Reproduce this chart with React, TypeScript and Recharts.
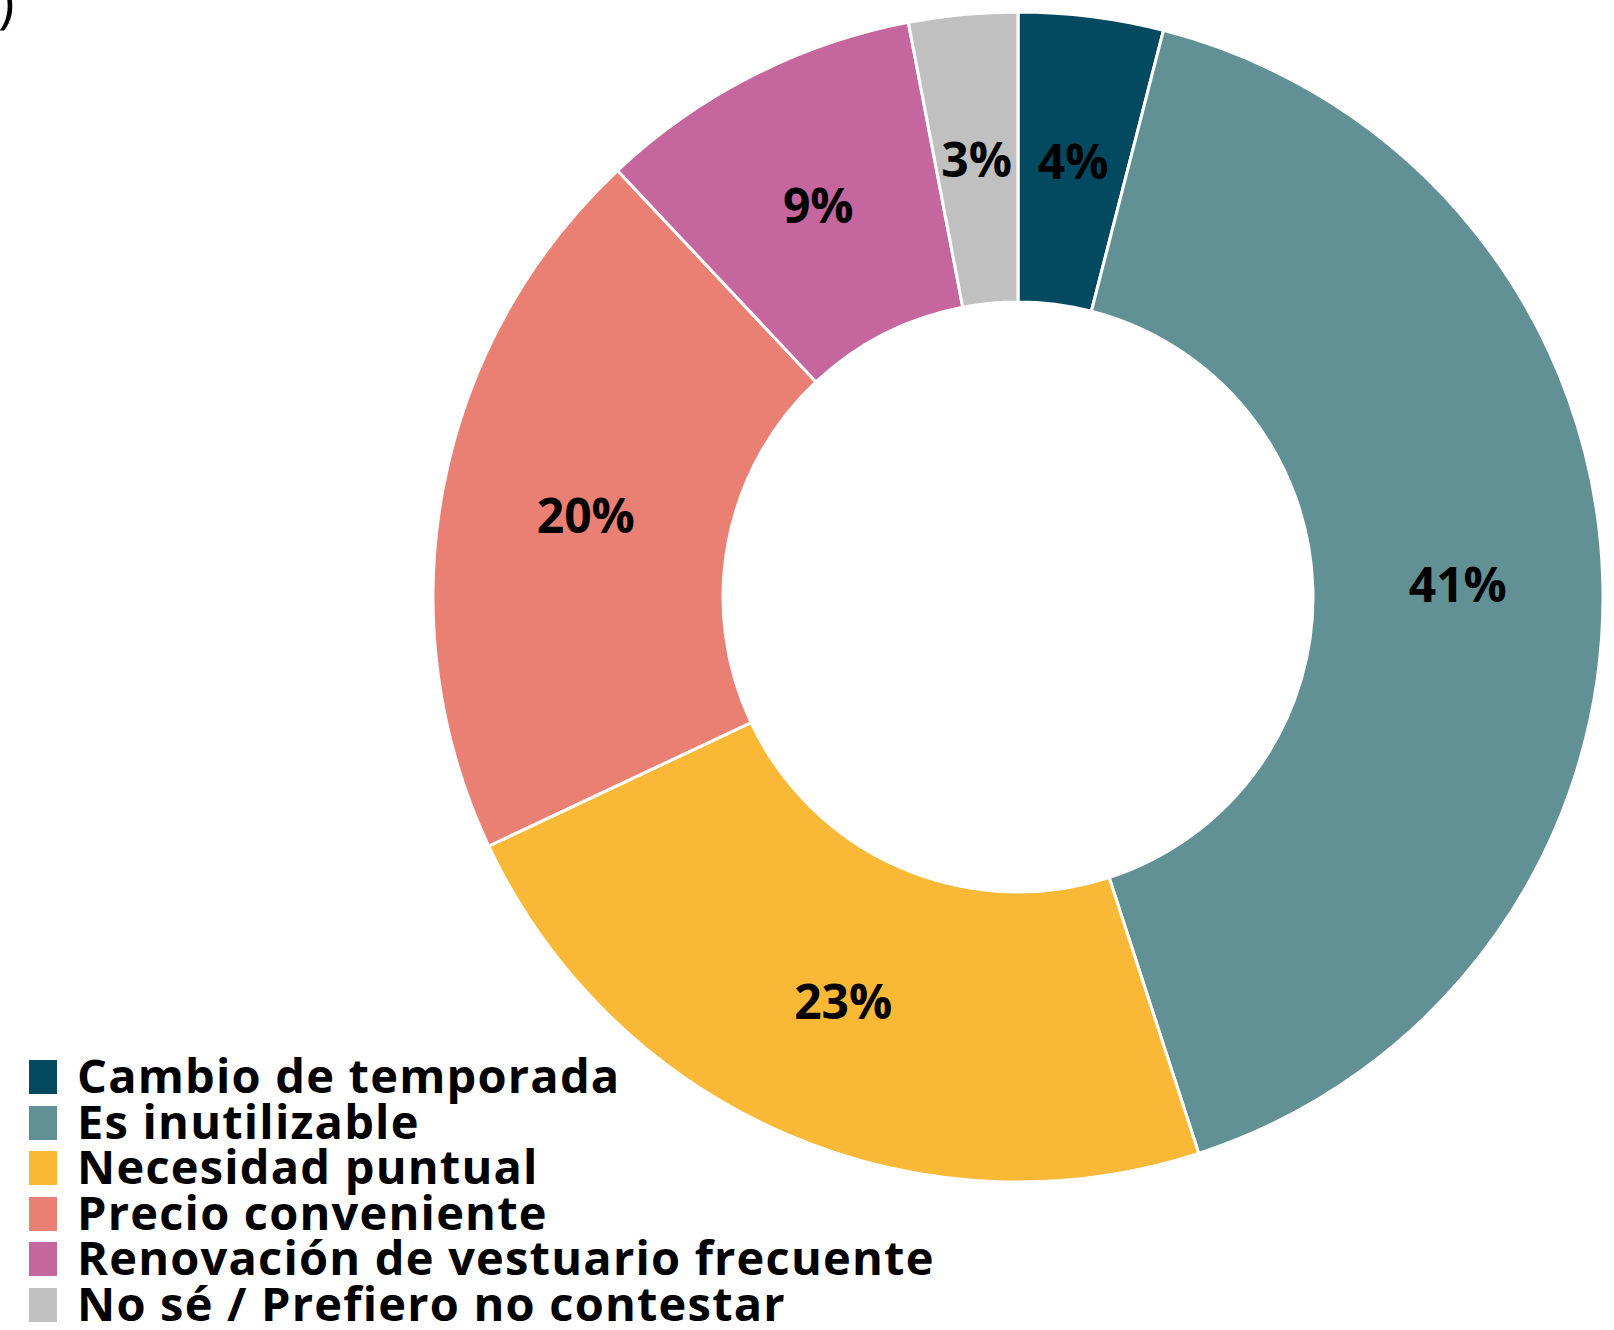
import React from "react";
import { PieChart, Pie, Cell, Legend } from "recharts";

const categories = [
  "Cambio de temporada",
  "Es inutilizable",
  "Necesidad puntual",
  "Precio conveniente",
  "Renovación de vestuario frecuente",
  "No sé / Prefiero no contestar",
];
const values = [4, 41, 23, 20, 9, 3];
const colors = ["#034a60", "#619095", "#f9b937", "#ea8073", "#c5669e", "#c0c0c0"];

const data = categories.map((name, i) => ({ name, value: values[i] }));

const FONT = "'Open Sans', 'DejaVu Sans', sans-serif";
const RAD = Math.PI / 180;

const renderLabel = (props: any) => {
  const { cx, cy, midAngle, innerRadius, outerRadius, value } = props;
  const r = (innerRadius + outerRadius) / 2;
  const x = cx + r * Math.cos(-midAngle * RAD);
  const y = cy + r * Math.sin(-midAngle * RAD);
  return (
    <text
      x={x}
      y={y}
      textAnchor="middle"
      dominantBaseline="central"
      fill="#000"
      fontFamily={FONT}
      fontWeight={700}
      fontSize={48}
    >
      {`${value}%`}
    </text>
  );
};

const LegendContent = () => (
  <div style={{ fontFamily: FONT }}>
    {categories.map((c, i) => (
      <div key={c} style={{ position: "relative", height: 45.5, width: 950 }}>
        <div
          style={{
            position: "absolute",
            left: 29,
            top: 0,
            width: 28,
            height: 34,
            background: colors[i],
          }}
        />
        <div
          style={{
            position: "absolute",
            left: 77,
            top: -7,
            fontSize: 47,
            fontWeight: 700,
            lineHeight: "45.5px",
            color: "#000",
            whiteSpace: "nowrap",
            letterSpacing: 1.2,
          }}
        >
          {c}
        </div>
      </div>
    ))}
  </div>
);

export default function App() {
  return (
    <div
      style={{
        position: "absolute",
        left: 0,
        top: 0,
        width: 1614,
        height: 1330,
        background: "#fff",
        overflow: "hidden",
      }}
    >
      <svg
        width={40}
        height={40}
        style={{ position: "absolute", left: 0, top: 0 }}
      >
        <text x={-2} y={22} fontFamily={FONT} fontSize={56} fill="#000">
          )
        </text>
      </svg>
      <PieChart
        width={1614}
        height={1330}
        margin={{ top: 0, right: 0, bottom: 0, left: 0 }}
      >
        <Pie
          data={data}
          dataKey="value"
          nameKey="name"
          cx={1018}
          cy={597}
          innerRadius={295}
          outerRadius={585}
          startAngle={90}
          endAngle={-270}
          stroke="#ffffff"
          strokeWidth={3}
          label={renderLabel}
          labelLine={false}
          isAnimationActive={false}
        >
          {data.map((d, i) => (
            <Cell key={d.name} fill={colors[i]} />
          ))}
        </Pie>
        <Legend
          content={<LegendContent />}
          wrapperStyle={{ position: "absolute", left: 0, top: 1060, width: 960 }}
        />
      </PieChart>
    </div>
  );
}
